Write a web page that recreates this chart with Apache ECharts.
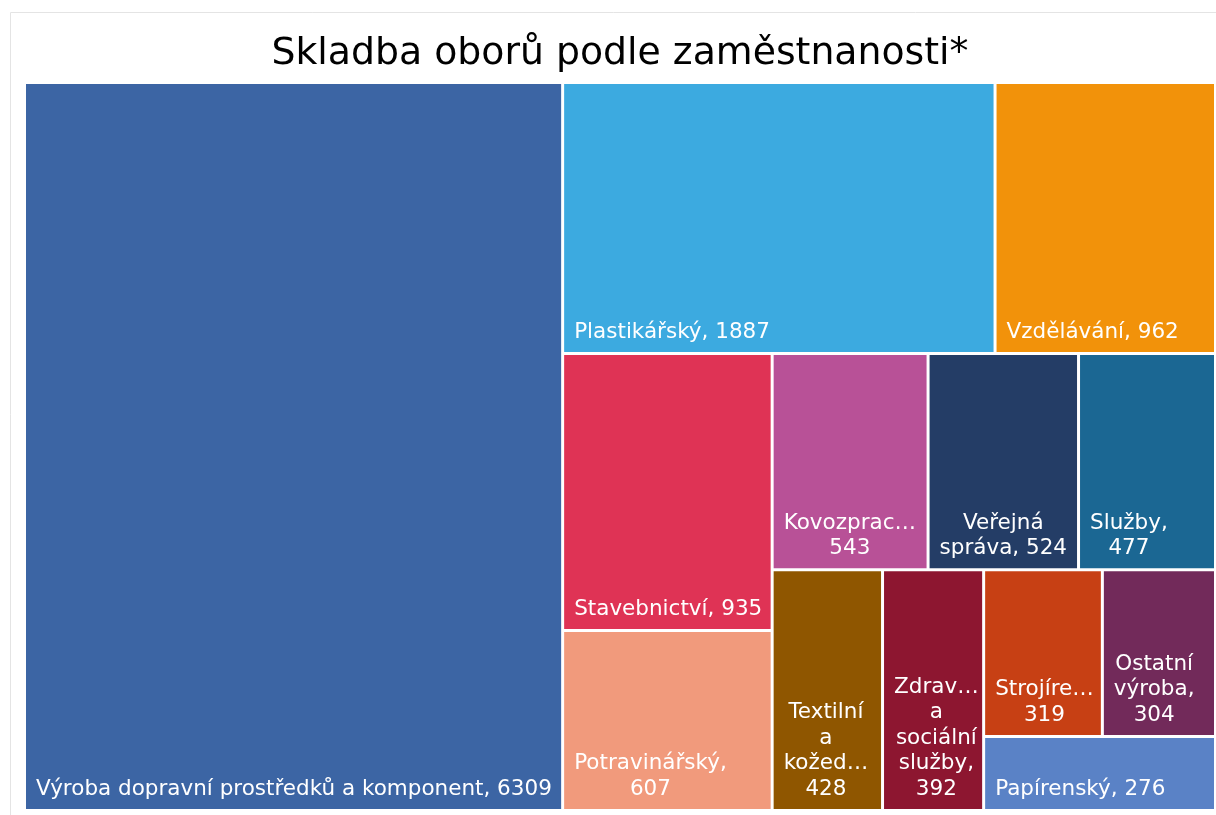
<!DOCTYPE html>
<html>
<head>
<meta charset="utf-8">
<title>Skladba oborů podle zaměstnanosti</title>
<script src="https://cdn.jsdelivr.net/npm/echarts@6/dist/echarts.min.js"></script>
<style>
    html, body { margin: 0; padding: 0; background: #fff; }
    #treemap_show { width: 1216px; height: 815px; }
</style>
</head>
<body>
<div id="treemap_show"></div>
<script>
// obory (popisky tak, jak jsou vidět v grafu) a počty zaměstnanců
var obory = ['Výroba dopravní prostředků a komponent', 'Plastikářský', 'Vzdělávání', 'Stavebnictví',
    'Potravinářský', 'Kovozprac…', 'Veřejná správa', 'Služby', 'Textilní a kožed…',
    'Zdrav… a sociální služby', 'Strojíre…', 'Ostatní výroba', 'Papírenský'];
var pocty = [6309, 1887, 962, 935, 607, 543, 524, 477, 428, 392, 319, 304, 276];

var barvy = ['#3c65a4', '#3caae0', '#f2920a', '#df3355', '#f19a7c', '#b85197', '#243d66',
    '#1b6793', '#8f5600', '#8d1630', '#c74014', '#722a5a', '#5a82c6'];

var pismo = "'DejaVu Sans', Verdana, sans-serif";
var velikost = 21.5;

var oTree = echarts.init(document.getElementById('treemap_show'));

function list(i) {
    return { name: obory[i], value: pocty[i], itemStyle: { color: barvy[i] } };
}

// prvních 8 oborů rovnou, zbytek vnořit tak, aby se dělil jako v Power BI
var aData = [];
for (var i = 0; i < 8; i++) {
    aData.push(list(i));
}
aData.push({
    name: '',
    children: [list(8), {
        name: '',
        children: [list(9), {
            name: '',
            children: [list(10), list(11), list(12)]
        }]
    }]
});

// zalamování po slovech (zrender odhaduje šířku znaků s diakritikou příliš velkou)
var ctx = document.createElement('canvas').getContext('2d');
ctx.font = velikost + 'px ' + pismo;
var sirky = {};

function zalomit(text, maxW) {
    var slova = text.split(' ');
    var radky = [];
    var radek = '';
    for (var i = 0; i < slova.length; i++) {
        var zkus = radek ? radek + ' ' + slova[i] : slova[i];
        if (!radek || ctx.measureText(zkus).width <= maxW) {
            radek = zkus;
        } else {
            radky.push(radek);
            radek = slova[i];
        }
    }
    radky.push(radek);
    return radky.join('\n');
}

function nejdelsiRadek(text) {
    var radky = (text || '').split('\n');
    var max = 0;
    for (var i = 0; i < radky.length; i++) {
        max = Math.max(max, ctx.measureText(radky[i]).width);
    }
    return max;
}

var oTreeopt = {
    animation: false,
    title: {
        text: 'Skladba oborů podle zaměstnanosti*',
        left: 615,
        textAlign: 'center',
        top: 30,
        textStyle: {
            fontFamily: pismo,
            fontSize: 37.8,
            fontWeight: 'normal',
            color: '#000'
        }
    },
    // světlý rámeček okolo vizuálu
    graphic: [{
        type: 'rect',
        silent: true,
        z: -10,
        shape: { x: 10.5, y: 12.5, width: 1230, height: 830 },
        style: { fill: 'none', stroke: '#e4e4e4', lineWidth: 1 }
    }],
    series: [{
        type: 'treemap',
        left: 26,
        right: 2,
        top: 84,
        bottom: 6,
        squareRatio: 1.1,
        sort: false,
        roam: false,
        nodeClick: false,
        breadcrumb: { show: false },
        itemStyle: {
            gapWidth: 3,
            borderWidth: 0,
            borderColor: '#fff'
        },
        label: {
            show: true,
            position: 'insideBottom',
            distance: 0,
            align: 'center',
            verticalAlign: 'bottom',
            color: '#fff',
            fontFamily: pismo,
            fontSize: velikost,
            lineHeight: 25.5,
            overflow: 'none',
            padding: [0, 9, 7, 9],
            formatter: function (p) {
                var sep = p.name.charAt(p.name.length - 1) === '…' ? ' ' : ', ';
                var text = p.name + sep + p.value;
                return sirky[p.dataIndex] ? zalomit(text, sirky[p.dataIndex] - 18) : text;
            }
        },
        // šířku pole si zapamatovat; blok textu posunout doleva, řádky zůstanou na střed
        labelLayout: function (params) {
            var w = params.rect.width;
            sirky[params.dataIndex] = w;
            return { dx: 10 + nejdelsiRadek(params.text) / 2 - w / 2 };
        },
        data: aData
    }]
};

oTree.setOption(oTreeopt);
// druhý průchod, už se známými šířkami polí
oTree.setOption(oTreeopt, true);
</script>
</body>
</html>
